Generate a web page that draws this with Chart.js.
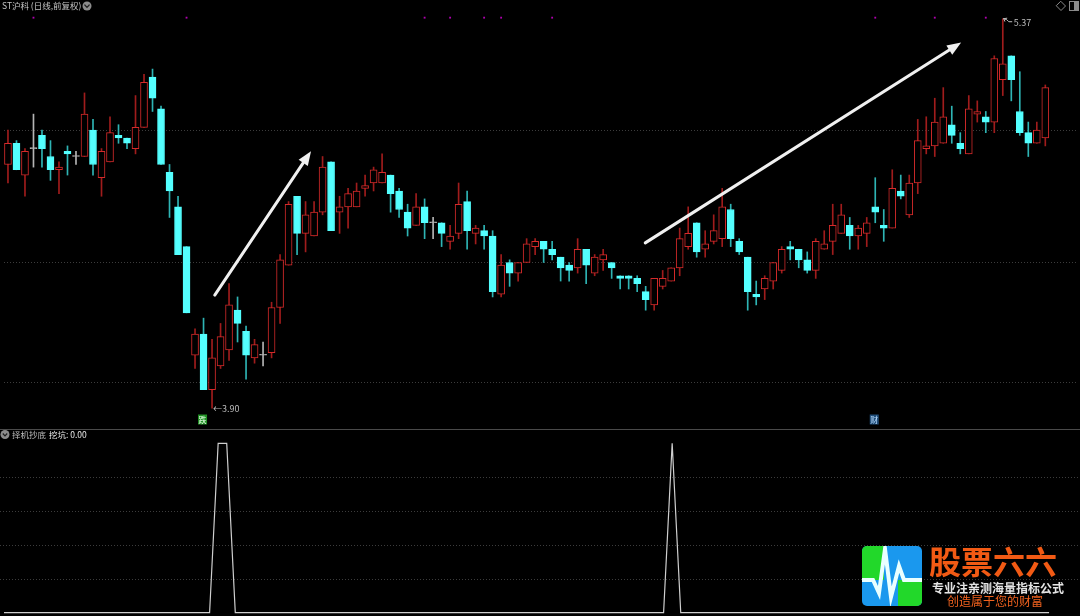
<!DOCTYPE html>
<html>
<head>
<meta charset="utf-8">
<script src="https://cdn.jsdelivr.net/npm/chart.js@4.4.0/dist/chart.umd.min.js"></script>
<style>
html, body { margin: 0; padding: 0; background: #000; overflow: hidden; }
#wrap { position: relative; width: 1080px; height: 616px; }
#k { position: absolute; left: 0; top: 0; }
#ind { position: absolute; left: 0; top: 429px; }
</style>
</head>
<body>
<div id="wrap">
  <canvas id="k" width="1080" height="429"></canvas>
  <canvas id="ind" width="1080" height="187"></canvas>
</div>
<script>
// daily candles, ST沪科 (前复权)
const opens = [4.82,4.90,4.78,4.88,4.93,4.85,4.80,4.87,4.85,4.85, 4.95,4.77,4.83,4.93,4.92,4.88,4.96,5.15,5.03,4.79,
  4.66,4.51,4.10,4.18,3.97,4.06,4.12,4.27,4.19,4.09, 4.10,4.11,4.28,4.44,4.70,4.56,4.55,4.64,4.83,4.64,
  4.66,4.66,4.73,4.75,4.75,4.78,4.72,4.64,4.59,4.66, 4.60,4.60,4.53,4.56,4.68,4.56,4.57,4.55,4.33,4.45,
  4.41,4.45,4.51,4.53,4.50,4.47,4.44,4.43,4.50,4.41, 4.46,4.45,4.40,4.40,4.39,4.34,4.29,4.36,4.38,4.43,
  4.51,4.60,4.50,4.53,4.54,4.65,4.53,4.47,4.33,4.35, 4.38,4.42,4.51,4.50,4.46,4.42,4.50,4.53,4.56,4.59,
  4.55,4.56,4.66,4.59,4.58,4.72,4.63,4.75,4.88,4.89, 4.90,4.97,4.90,4.86,5.01,5.00,4.98,5.14,5.23,5.02,
  4.94,4.90,4.92];
const highs = [4.95,4.91,4.88,5.01,4.95,4.91,4.83,4.89,4.87,5.09, 4.99,4.88,5.00,4.97,4.92,5.08,5.16,5.18,5.04,4.82,
  4.70,4.51,4.20,4.24,4.16,4.22,4.37,4.32,4.21,4.16, 4.15,4.30,4.48,4.68,4.70,4.68,4.68,4.85,4.83,4.70,
  4.73,4.75,4.78,4.81,4.86,4.78,4.73,4.67,4.71,4.69, 4.62,4.60,4.59,4.75,4.72,4.59,4.59,4.57,4.48,4.46,
  4.45,4.54,4.54,4.53,4.53,4.47,4.45,4.54,4.50,4.48, 4.50,4.45,4.40,4.40,4.40,4.36,4.39,4.42,4.43,4.58,
  4.66,4.60,4.57,4.63,4.73,4.67,4.54,4.47,4.38,4.40, 4.45,4.51,4.53,4.50,4.49,4.54,4.57,4.67,4.67,4.62,
  4.59,4.62,4.77,4.65,4.80,4.78,4.78,4.99,5.00,5.07, 5.11,5.04,4.94,5.08,5.06,5.02,5.23,5.37,5.23,5.17,
  4.98,4.98,5.12];
const lows = [4.75,4.80,4.70,4.81,4.81,4.76,4.71,4.78,4.82,4.85, 4.78,4.70,4.83,4.90,4.88,4.86,4.96,5.02,4.82,4.62,
  4.48,4.26,4.05,3.97,3.90,4.05,4.08,4.15,4.01,4.07, 4.06,4.09,4.22,4.44,4.48,4.49,4.55,4.63,4.57,4.56,
  4.58,4.66,4.70,4.72,4.75,4.64,4.62,4.55,4.59,4.54, 4.54,4.51,4.50,4.54,4.50,4.52,4.50,4.32,4.32,4.36,
  4.38,4.45,4.48,4.45,4.46,4.38,4.38,4.41,4.37,4.40, 4.42,4.39,4.35,4.35,4.34,4.27,4.27,4.35,4.38,4.40,
  4.50,4.47,4.47,4.52,4.51,4.51,4.48,4.27,4.29,4.31, 4.35,4.41,4.46,4.43,4.41,4.39,4.50,4.48,4.56,4.50,
  4.50,4.51,4.60,4.53,4.58,4.69,4.62,4.71,4.86,4.85, 4.90,4.90,4.86,4.86,4.98,4.94,4.94,5.08,5.06,4.93,
  4.85,4.90,4.89];
const closes = [4.90,4.80,4.87,4.88,4.88,4.80,4.81,4.86,4.85,5.01, 4.82,4.87,4.94,4.92,4.90,4.96,5.13,5.07,4.82,4.72,
  4.48,4.26,4.18,3.97,4.09,4.17,4.29,4.22,4.10,4.14, 4.10,4.28,4.46,4.67,4.56,4.63,4.64,4.81,4.57,4.66,
  4.71,4.72,4.74,4.80,4.79,4.71,4.65,4.58,4.66,4.60, 4.60,4.56,4.55,4.67,4.57,4.58,4.55,4.34,4.44,4.41,
  4.45,4.52,4.53,4.50,4.48,4.43,4.42,4.50,4.44,4.47, 4.48,4.43,4.39,4.39,4.37,4.31,4.39,4.39,4.43,4.54,
  4.56,4.49,4.52,4.57,4.66,4.54,4.49,4.34,4.32,4.39, 4.45,4.50,4.50,4.46,4.42,4.53,4.52,4.59,4.63,4.55,
  4.58,4.60,4.64,4.58,4.73,4.70,4.75,4.91,4.89,4.98, 5.00,4.93,4.88,5.03,5.02,4.98,5.22,5.20,5.14,4.94,
  4.90,4.95,5.11];

// 择机抄底 / 挖坑 indicator
const signal = [0,0,0,0,0,0,0,0,0,0, 0,0,0,0,0,0,0,0,0,0,
  0,0,0,0,0,1,1,0,0,0, 0,0,0,0,0,0,0,0,0,0,
  0,0,0,0,0,0,0,0,0,0, 0,0,0,0,0,0,0,0,0,0,
  0,0,0,0,0,0,0,0,0,0, 0,0,0,0,0,0,0,0,1,0,
  0,0,0,0,0,0,0,0,0,0, 0,0,0,0,0,0,0,0,0,0,
  0,0,0,0,0,0,0,0,0,0, 0,0,0,0,0,0,0,0,0,0,
  0,0,0];

const markDays = [3, 21, 49, 52, 56, 58, 64, 102, 109, 115];
const markLevel = 5.374;
const tagDays = [23, 102];
const tagText = ['跌', '财'];
const priceGrid = [4.0, 4.45, 4.95];
const signalGrid = [0.2, 0.4, 0.6, 0.8];
// hand drawn trend arrows: [day, price] -> [day, price]
const arrows = [[24.32, 4.327, 35.64, 4.87], [74.95, 4.524, 112.1, 5.28]];

const X_MIN = -0.467, X_MAX = 125.61;
const FONT = "'Noto Sans CJK SC', 'Noto Sans', sans-serif";

const RED = '#d42a2a', RED_WICK = '#a01c1c';
const CYAN = '#54ffff', CYAN_WICK = '#2eb4b4';
const GRAY = '#b4b4b4';

let days = opens.map((o, i) => i);
let dir = days.map(i => closes[i] > opens[i] ? 1 : (closes[i] < opens[i] ? -1 : 0));

let bodyColor = dir.map(d => d > 0 ? RED : (d < 0 ? CYAN : GRAY));
let bodyFill = dir.map(d => d > 0 ? '#000' : (d < 0 ? CYAN : GRAY));
let wickColor = dir.map(d => d > 0 ? RED_WICK : (d < 0 ? CYAN_WICK : GRAY));

function dotLines(chart, values) {
  let ctx = chart.ctx, y = chart.scales.y, a = chart.chartArea;
  ctx.save();
  ctx.strokeStyle = '#3c3c3c';
  ctx.lineWidth = 1;
  ctx.setLineDash([1, 2]);
  values.forEach(v => {
    let py = Math.round(y.getPixelForValue(v)) + 0.5;
    ctx.beginPath(); ctx.moveTo(a.left, py); ctx.lineTo(a.right, py); ctx.stroke();
  });
  ctx.restore();
}

function drawArrow(ctx, x1, y1, x2, y2) {
  let ang = Math.atan2(y2 - y1, x2 - x1), L = 14, W = 5.5;
  let bx = x2 - L * Math.cos(ang), by = y2 - L * Math.sin(ang);
  ctx.strokeStyle = '#f0f0f0';
  ctx.fillStyle = '#f0f0f0';
  ctx.lineWidth = 3;
  ctx.lineCap = 'round';
  ctx.beginPath(); ctx.moveTo(x1, y1); ctx.lineTo(bx, by); ctx.stroke();
  ctx.beginPath();
  ctx.moveTo(x2, y2);
  ctx.lineTo(bx + W * Math.sin(ang), by - W * Math.cos(ang));
  ctx.lineTo(bx - W * Math.sin(ang), by + W * Math.cos(ang));
  ctx.closePath(); ctx.fill();
}

function chevronDot(ctx, x, y) {
  ctx.fillStyle = '#8c8c8c';
  ctx.beginPath(); ctx.arc(x, y, 4.5, 0, Math.PI * 2); ctx.fill();
  ctx.strokeStyle = '#202020'; ctx.lineWidth = 1.2;
  ctx.beginPath(); ctx.moveTo(x - 2.2, y - 1); ctx.lineTo(x, y + 1.3); ctx.lineTo(x + 2.2, y - 1); ctx.stroke();
}

const kPlugin = {
  id: 'kDecor',
  beforeDatasetsDraw(chart) { dotLines(chart, priceGrid); },
  afterDatasetsDraw(chart) {
    let ctx = chart.ctx, xs = chart.scales.x, ys = chart.scales.y;
    ctx.save();
    arrows.forEach(a => drawArrow(ctx, xs.getPixelForValue(a[0]), ys.getPixelForValue(a[1]),
      xs.getPixelForValue(a[2]), ys.getPixelForValue(a[3])));

    // lowest low / highest high labels
    let lo = Math.min(...lows), hi = Math.max(...highs);
    let li = lows.indexOf(lo), hiIdx = highs.indexOf(hi);
    ctx.font = '9px ' + FONT;
    ctx.fillStyle = '#bdbdbd';
    ctx.textBaseline = 'middle';
    ctx.textAlign = 'left';
    ctx.fillText('←' + lo.toFixed(2), xs.getPixelForValue(li) + 1, ys.getPixelForValue(lo));
    let hx = xs.getPixelForValue(hiIdx), hy = ys.getPixelForValue(hi);
    ctx.strokeStyle = '#bdbdbd'; ctx.lineWidth = 1;
    ctx.beginPath(); ctx.moveTo(hx + 1, hy); ctx.lineTo(hx + 4, hy + 1); ctx.lineTo(hx + 6, hy + 3); ctx.lineTo(hx + 9, hy + 3); ctx.stroke();
    ctx.beginPath(); ctx.moveTo(hx + 1, hy); ctx.lineTo(hx + 4, hy - 0.5); ctx.moveTo(hx + 1, hy); ctx.lineTo(hx + 2, hy + 2.5); ctx.stroke();
    ctx.fillText(hi.toFixed(2), hx + 11, hy + 4);

    // signal tags under the candles
    tagDays.forEach((d, k) => {
      let tx = xs.getPixelForValue(d) - 1, ty = chart.chartArea.bottom - 5;
      ctx.fillStyle = k === 0 ? '#1f8f23' : '#1f4c78';
      ctx.fillRect(tx - 4.5, ty - 5.5, 9, 10);
      ctx.fillStyle = k === 0 ? '#e8ffe8' : '#b8dcff';
      ctx.font = '8px ' + FONT;
      ctx.textAlign = 'center';
      ctx.fillText(tagText[k], tx, ty);
    });

    // title
    ctx.textAlign = 'left';
    ctx.font = '8.5px ' + FONT;
    ctx.fillStyle = '#c4c4c4';
    ctx.fillText('ST沪科 (日线,前复权)', 2, 6);
    chevronDot(ctx, 87, 6);

    // right corner icons
    ctx.strokeStyle = '#8a8a8a'; ctx.lineWidth = 1;
    ctx.beginPath(); ctx.moveTo(1061, 1.5); ctx.lineTo(1065.5, 6); ctx.lineTo(1061, 10.5); ctx.lineTo(1056.5, 6); ctx.closePath(); ctx.stroke();
    ctx.strokeRect(1069.5, 1.5, 9, 9);
    ctx.fillStyle = '#8a8a8a'; ctx.fillRect(1074, 2, 4, 8);
    ctx.restore();
  }
};

new Chart(document.getElementById('k'), {
  type: 'bar',
  data: {
    datasets: [
      {
        label: 'body',
        data: days.map(i => ({ x: i, y: [opens[i], closes[i]] })),
        backgroundColor: bodyFill,
        borderColor: bodyColor,
        borderWidth: 1,
        borderSkipped: false,
        barThickness: 7,
        minBarLength: 1,
        grouped: false
      },
      {
        label: 'wick',
        data: days.map(i => ({ x: i, y: [lows[i], highs[i]] })),
        backgroundColor: wickColor,
        borderWidth: 0,
        barThickness: 1,
        grouped: false
      },
      {
        type: 'scatter',
        label: 'mark',
        data: markDays.map(d => ({ x: d, y: markLevel })),
        pointStyle: 'rect',
        pointRadius: 1.3,
        backgroundColor: '#b000b0',
        borderWidth: 0
      }
    ]
  },
  options: {
    responsive: false,
    animation: false,
    devicePixelRatio: 1,
    layout: { padding: 0 },
    plugins: { legend: { display: false }, tooltip: { enabled: false } },
    scales: {
      x: { type: 'linear', min: X_MIN, max: X_MAX, offset: false, display: false },
      y: { min: 3.8367, max: 5.4256, display: false }
    }
  },
  plugins: [kPlugin]
});

const indPlugin = {
  id: 'indDecor',
  beforeDatasetsDraw(chart) {
    let ctx = chart.ctx;
    ctx.save();
    ctx.strokeStyle = '#4a4a4a'; ctx.lineWidth = 1;
    ctx.beginPath(); ctx.moveTo(0, 0.5); ctx.lineTo(1080, 0.5); ctx.stroke();
    ctx.restore();
    dotLines(chart, signalGrid);
  },
  afterDatasetsDraw(chart) {
    let ctx = chart.ctx;
    ctx.save();
    chevronDot(ctx, 5, 5.5);
    ctx.font = '8.5px ' + FONT;
    ctx.textBaseline = 'middle';
    ctx.fillStyle = '#bcbcbc';
    ctx.fillText('择机抄底', 12, 5.5);
    ctx.fillStyle = '#e8e8e8';
    ctx.fillText('挖坑: ' + signal[signal.length - 1].toFixed(2), 49, 5.5);

    // watermark logo
    let lx = 862, ly = 117, s = 60;
    ctx.beginPath();
    ctx.roundRect(lx, ly, s, s, 5);
    ctx.clip();
    ctx.fillStyle = '#1a98ee'; ctx.fillRect(lx, ly, s, s);
    ctx.fillStyle = '#22d82a';
    ctx.fillRect(lx, ly, 22, 34);
    ctx.fillRect(lx + 36, ly + 34, 24, 26);
    ctx.strokeStyle = '#eaffff'; ctx.lineWidth = 4; ctx.lineJoin = 'miter';
    ctx.beginPath();
    ctx.moveTo(lx - 2, ly + 34); ctx.lineTo(lx + 11, ly + 34); ctx.lineTo(lx + 17, ly + 47);
    ctx.lineTo(lx + 23, ly + 3); ctx.lineTo(lx + 29, ly + 51); ctx.lineTo(lx + 37, ly + 20);
    ctx.lineTo(lx + 42, ly + 34); ctx.lineTo(lx + 62, ly + 34);
    ctx.stroke();
    ctx.restore();

    ctx.save();
    ctx.textBaseline = 'middle';
    ctx.font = 'bold 32px ' + FONT;
    ctx.fillStyle = '#f25a14';
    ctx.fillText('股票六六', 929, 133);
    ctx.font = 'bold 12px ' + FONT;
    ctx.fillStyle = '#e4e4e4';
    ctx.fillText('专业注亲测海量指标公式', 932, 159);
    ctx.font = '12px ' + FONT;
    ctx.fillStyle = '#f0621e';
    ctx.fillText('创造属于您的财富', 947, 172);
    ctx.restore();
  }
};

new Chart(document.getElementById('ind'), {
  type: 'line',
  data: {
    datasets: [{
      label: '挖坑',
      data: days.map(i => ({ x: i, y: signal[i] })),
      borderColor: '#cfcfcf',
      borderWidth: 1.2,
      pointRadius: 0,
      tension: 0,
      fill: false
    }]
  },
  options: {
    responsive: false,
    animation: false,
    devicePixelRatio: 1,
    layout: { padding: 0 },
    plugins: { legend: { display: false }, tooltip: { enabled: false } },
    scales: {
      x: { type: 'linear', min: X_MIN, max: X_MAX, display: false },
      y: { min: -0.0195, max: 1.0844, display: false }
    }
  },
  plugins: [indPlugin]
});
</script>
</body>
</html>
